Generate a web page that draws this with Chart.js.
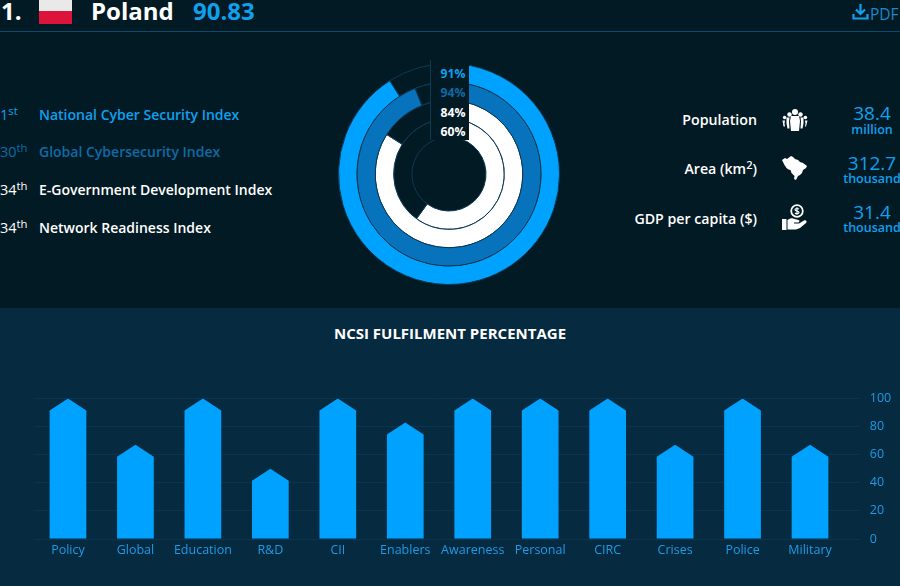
<!DOCTYPE html>
<html><head><meta charset="utf-8">
<script src="https://cdn.jsdelivr.net/npm/chart.js@4/dist/chart.umd.min.js"></script>
<style>
html,body{margin:0;padding:0;width:900px;height:586px;overflow:hidden;background:#021a24;font-family:"Open Sans","Noto Sans",sans-serif;}
.a{position:absolute;white-space:nowrap;line-height:1;}
sup{font-size:.78em;line-height:0;vertical-align:baseline;position:relative;top:-.42em;}
#bottom{position:absolute;left:0;top:308px;width:900px;height:278px;background:#062a40;}
#hline{position:absolute;left:0;top:31px;width:900px;height:1px;background:#0e4a6e;}
#cover{position:absolute;left:430px;top:60px;width:39px;height:80px;background:#021a24;border-left:1px solid #0c3a55;box-sizing:border-box;}
.b{color:#0fa0ee}.m{color:#0f6aa6}.w{color:#fff}
.rank{font-size:14.5px;font-weight:400;left:0}
.name{font-size:14px;font-weight:600;left:39px}
.pct{font-size:12.2px;font-weight:700;right:434.5px;}
.lab{font-size:14.2px;font-weight:600;color:#fff;right:143px}
.val{font-size:19px;font-weight:500;color:#0fa0ee;width:70px;left:837px;text-align:center}
.unit{font-size:12.5px;font-weight:600;color:#0fa0ee;width:70px;left:837px;text-align:center}
canvas{position:absolute}
</style></head><body>
<div id="bottom"></div><div id="hline"></div>
<div class="a w" style="left:1px;top:-1px;font-size:24px;font-weight:700">1.</div>
<div class="a" style="left:39px;top:-6px;width:33px;height:17px;background:#e9e9e9"></div>
<div class="a" style="left:39px;top:11px;width:33px;height:13px;background:#dc143c"></div>
<div class="a w" style="left:91px;top:-1px;font-size:24px;font-weight:700">Poland</div>
<div class="a b" style="left:193px;top:-1px;font-size:24px;font-weight:700">90.83</div>
<svg class="a" style="left:852px;top:3px" width="17" height="17" viewBox="0 0 17 17" fill="none" stroke="#14a0f0" stroke-width="2.2"><path d="M8.500 1v9.500M4 6.500l4.500 4.500 4.500-4.500M1.500 11v4.500h14V11"/></svg>
<div class="a" style="left:870px;top:7px;font-size:15.500px;color:#1e88c8">PDF</div>

<div class="a rank b" style="top:108px">1<sup>st</sup></div><div class="a name b" style="top:108px">National Cyber Security Index</div>
<div class="a rank m" style="top:145px">30<sup>th</sup></div><div class="a name m" style="top:145px">Global Cybersecurity Index</div>
<div class="a rank w" style="top:183px">34<sup>th</sup></div><div class="a name w" style="top:183px">E-Government Development Index</div>
<div class="a rank w" style="top:221px">34<sup>th</sup></div><div class="a name w" style="top:221px">Network Readiness Index</div>

<canvas id="donut" style="left:338px;top:63px;width:222px;height:222px" width="222" height="222"></canvas>
<div id="cover"></div>
<div class="a pct b" style="top:68px">91%</div>
<div class="a pct m" style="top:87px">94%</div>
<div class="a pct w" style="top:107px">84%</div>
<div class="a pct w" style="top:126px">60%</div>

<div class="a lab" style="top:113px">Population</div>
<div class="a lab" style="top:162px">Area (km<sup>2</sup>)</div>
<div class="a lab" style="top:212px">GDP per capita ($)</div>
<svg class="a" style="left:782px;top:109px" width="26" height="22" viewBox="0 0 26 22" fill="#fff"><circle cx="13" cy="3" r="3"/><circle cx="7.500" cy="5.500" r="2.200"/><circle cx="18.500" cy="5.500" r="2.200"/><circle cx="2.600" cy="8.500" r="1.800"/><circle cx="23.400" cy="8.500" r="1.800"/><path d="M9 7h8l1 5-1 10H9l-1-10z"/><path d="M4.500 8.500h3l-.5 4 .5 7H5.500l-1-5zM21.500 8.500h-3l.5 4-.5 7h2l1-5z"/><path d="M.5 11.500h2.500l-.5 3 .5 3H1.500zM25.500 11.500H23l.5 3-.5 3h1z"/></svg>
<svg class="a" style="left:782px;top:156px" width="26" height="24" viewBox="0 0 26 24" fill="#fff"><path d="M0 4l3-2 2 1 4-3 2 1 2 2 3 1 2 2 3 1 4 3-1 2-3 2-1 3-2 2-2 1-2 4-2-1 .5-3-3-3-1-3-2-.5-2-1.500-2-3z"/></svg>
<svg class="a" style="left:782px;top:204px" width="26" height="27" viewBox="0 0 26 27" fill="#fff"><circle cx="15" cy="7" r="5.800" fill="none" stroke="#fff" stroke-width="1.800"/><path d="M17 5.200c-1-1-4-1-4 .6s4 1 4 2.600-3 1.600-4 .6M15 3.300v7.400" fill="none" stroke="#fff" stroke-width="1.200"/><rect x="0" y="15" width="4.500" height="11"/><path d="M5.500 16c3-2 5-2 7-1l4 1c1.500.5 1 2.500-.5 2.500h-4v1h5l5-3c2-1 3.500 1 2 2.500l-6 5-4 1.500H5.500z"/></svg>
<div class="a val" style="top:104px">38.4</div><div class="a unit" style="top:124px">million</div>
<div class="a val" style="top:154px">312.7</div><div class="a unit" style="top:173px">thousand</div>
<div class="a val" style="top:203px">31.4</div><div class="a unit" style="top:222px">thousand</div>

<div class="a w" style="left:0;width:900px;text-align:center;top:326px;font-size:15px;font-weight:700">NCSI FULFILMENT PERCENTAGE</div>
<canvas id="bars" style="left:0;top:381px;width:900px;height:185px" width="900" height="185"></canvas>
<script>
const ringLabels = ["National Cyber Security Index","Global Cybersecurity Index","E-Government Development Index","Network Readiness Index"];
const ringValues = [91,94,84,60];
const ringColors = ["#00a2ff","#0873bd","#ffffff","#ffffff"];
const categories = ["Policy","Global","Education","R&D","CII","Enablers","Awareness","Personal","CIRC","Crises","Police","Military"];
const fulfilment = [100,67,100,50,100,83,100,100,100,67,100,67];
const yTicks = [0,20,40,60,80,100];

Chart.defaults.font.family = '"Open Sans","Noto Sans",sans-serif';
const track = "#0c3a55";
new Chart(document.getElementById("donut"),{
  type:"doughnut",
  data:{labels:["Score","Remainder"],datasets:ringValues.map((v,i)=>({
    label:ringLabels[i],data:[v,100-v],
    backgroundColor:[ringColors[i],"rgba(0,0,0,0)"],
    borderColor:[track,track],borderWidth:1,borderAlign:"center"
  }))},
  options:{responsive:false,animation:false,cutout:"33.5%",
    plugins:{legend:{display:false},tooltip:{enabled:false}},layout:{padding:0}}
});

// Pentagon-topped bars: the element's own scale-derived geometry, only the outline differs.
const shoulder = 12;
Chart.BarElement.prototype.draw = function(ctx){
  const {x,y,base,width} = this.getProps(["x","y","base","width"]);
  ctx.save();ctx.fillStyle = this.options.backgroundColor;
  ctx.beginPath();
  ctx.moveTo(x-width/2,base);ctx.lineTo(x-width/2,y+shoulder);ctx.lineTo(x,y);
  ctx.lineTo(x+width/2,y+shoulder);ctx.lineTo(x+width/2,base);ctx.closePath();ctx.fill();
  ctx.restore();
};
new Chart(document.getElementById("bars"),{
  type:"bar",
  data:{labels:categories,datasets:[{label:"NCSI fulfilment",data:fulfilment,backgroundColor:"#00a2ff",categoryPercentage:1,barPercentage:0.544,yAxisID:"y"}]},
  options:{responsive:false,animation:false,
    layout:{padding:{left:34.25,top:0,right:0,bottom:0}},
    plugins:{legend:{display:false},tooltip:{enabled:false}},
    scales:{
      x:{grid:{display:false,drawTicks:false},border:{display:false},
        afterFit(s){s.height=27},
        ticks:{color:"#1d9be6",font:{size:12.5},padding:4,maxRotation:0,autoSkip:false}},
      y:{position:"right",min:0,max:100,
        afterFit(s){s.width=56.25},
        afterBuildTicks(s){s.ticks=yTicks.map(v=>({value:v}))},
        grid:{color:"#0a3450",tickLength:16,tickColor:"#0a3450"},border:{display:false},
        ticks:{color:"#1d9be6",font:{size:12.5},padding:10}}
    }}
});
</script>
</body></html>
